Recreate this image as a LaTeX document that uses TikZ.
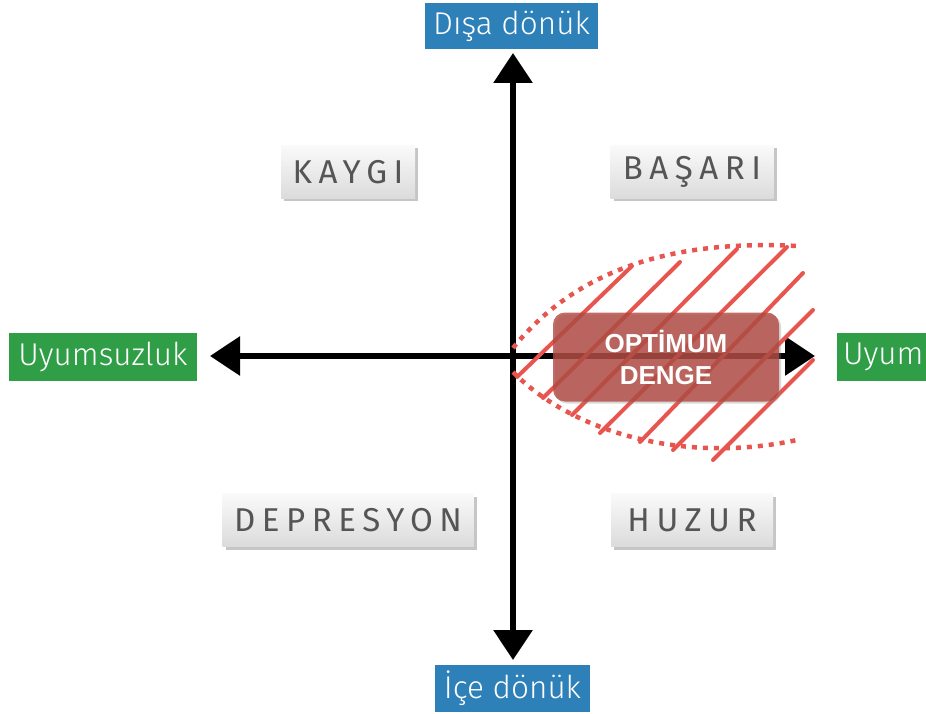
\documentclass[tikz,border=0pt]{standalone}
\usepackage{fontspec}
\setmainfont{Liberation Sans}
\newfontfamily\labelfont{Fira Sans}[UprightFont=* Light]
\newfontfamily\handfont{Fira Sans}[LetterSpace=20]
\usetikzlibrary{arrows.meta,shadows}
\definecolor{axisblue}{HTML}{2E80B9}
\definecolor{axisgreen}{HTML}{2F9E47}
\definecolor{hatchred}{HTML}{E8554F}
\definecolor{optred}{HTML}{B2483F}
\definecolor{handgray}{HTML}{555555}
\tikzset{
  axislabel/.style={inner sep=0pt, text=white, font=\labelfont\fontsize{31.5}{31.5}\selectfont},
  quadbox/.style={inner sep=0pt, top color=gray!4, bottom color=gray!28, draw=none,
     drop shadow={shadow xshift=3pt, shadow yshift=-3pt, opacity=0.45},
     text=handgray, font=\handfont\fontsize{33}{33}\selectfont},
  axisline/.style={line width=6pt, black, -{Triangle[width=38pt,length=30pt]}},
  hatch/.style={line width=4pt, hatchred, line cap=round},
  lens/.style={line width=4.5pt, hatchred, dash pattern=on 5pt off 6pt},
  optbox/.style={fill=optred, fill opacity=0.8, rounded corners=12pt, inner sep=0pt,
     text=white, text opacity=1, align=center,
     font=\bfseries\fontsize{26}{32}\selectfont,
     drop shadow={shadow xshift=2pt, shadow yshift=-2pt, opacity=0.3}}
}
\begin{document}
\begin{tikzpicture}[x=1pt,y=-1pt]
\useasboundingbox (0,0) rectangle (926,714);
% axis label boxes
\node[axislabel, fill=axisblue, minimum width=173pt, minimum height=46pt] (top) at (511.5,26) {Dışa dönük};
\node[axislabel, fill=axisblue, minimum width=155pt, minimum height=47pt] (bottom) at (512.5,688.5) {İçe dönük};
\node[axislabel, fill=axisgreen, minimum width=188pt, minimum height=48pt] (left) at (103,357) {Uyumsuzluk};
\fill[axisgreen] (837,333) rectangle (930,381);
\node[axislabel, anchor=west] (right) at (843,357) {Uyum};
% quadrant boxes
\node[quadbox, minimum width=134pt, minimum height=53pt] (kaygi) at (348,172) {KAYGI};
\node[quadbox, minimum width=163pt, minimum height=53pt] (basari) at (692,172) {BAŞARI};
\node[quadbox, minimum width=251pt, minimum height=53pt] (depresyon) at (348,520) {DEPRESYON};
\node[quadbox, minimum width=162pt, minimum height=53pt] (huzur) at (692,520) {HUZUR};
% axes
\coordinate (c) at (513,356);
\coordinate (tN) at (513,53);
\coordinate (tS) at (513,660);
\coordinate (tW) at (210,356);
\coordinate (tE) at (815,356);
\draw[axisline] (c) -- (tN);
\draw[axisline] (c) -- (tS);
\draw[axisline] (c) -- (tW);
\draw[axisline] (c) -- (tE);
% hatched lens
\draw[hatch] (517,377) -- (632,266);
\draw[hatch] (543,398) -- (680,262);
\draw[hatch] (572,415) -- (737,249);
\draw[hatch] (600,433) -- (787,247);
\draw[hatch] (640,442) -- (803,273);
\draw[hatch] (673,450) -- (813,310);
\draw[hatch] (713,460) -- (813,360);
\draw[lens] (513,348) .. controls (580,265) and (680,240) .. (797,246);
\draw[lens] (513,372) .. controls (570,430) and (680,465) .. (797,440);
% optimum box
\node[optbox, minimum width=226pt, minimum height=89pt] (opt) at (666,357) {OPTİMUM\\DENGE};
\end{tikzpicture}
\end{document}
